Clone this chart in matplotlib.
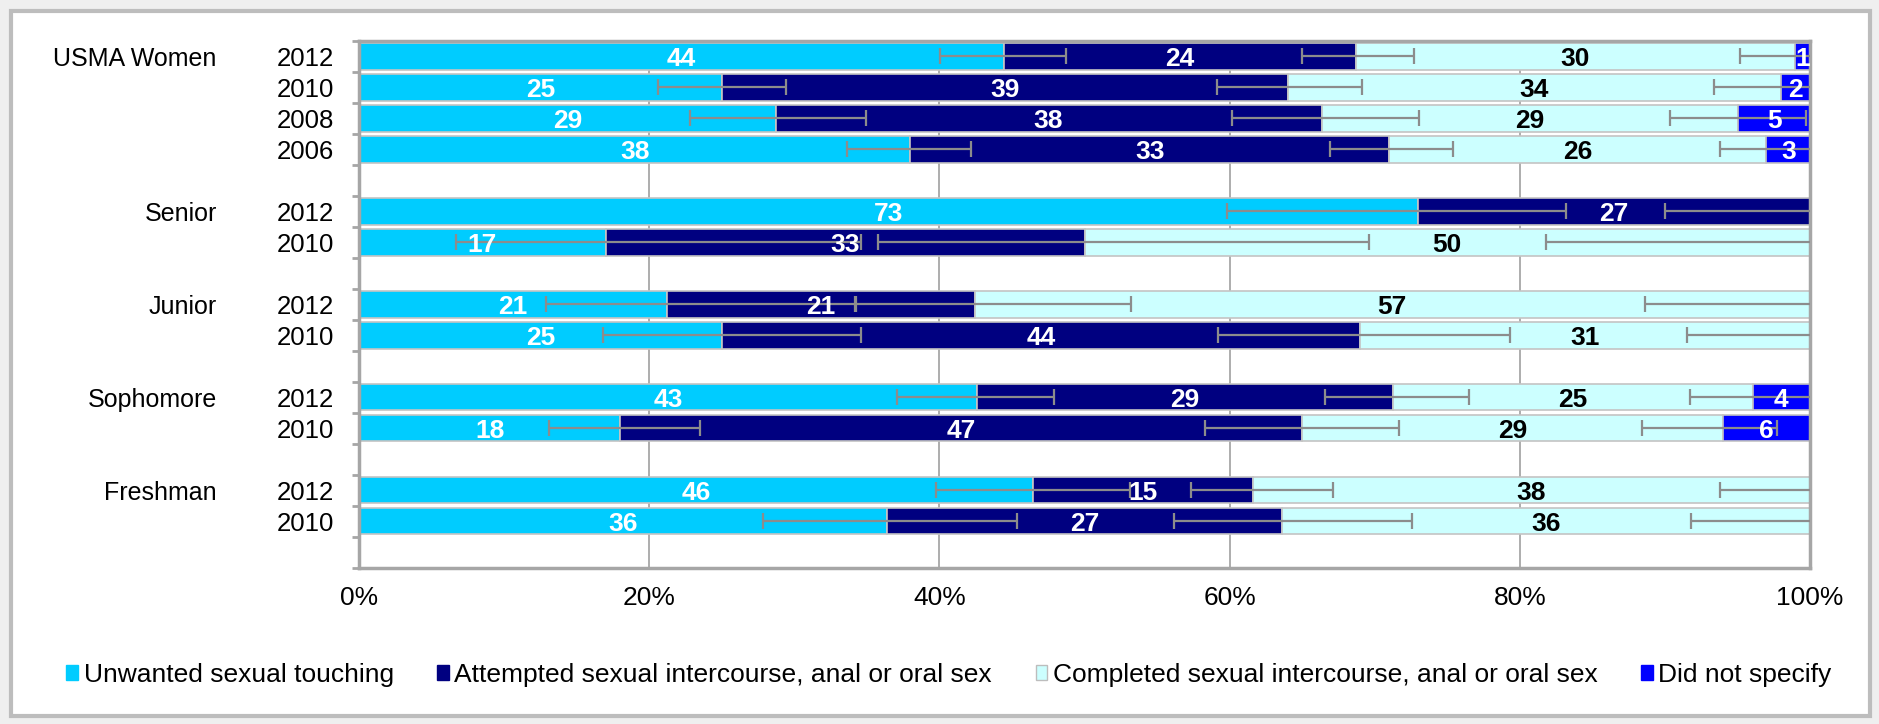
import matplotlib
matplotlib.use("Agg")
import matplotlib.pyplot as plt
from matplotlib.patches import Rectangle, Patch
from matplotlib.transforms import blended_transform_factory
import numpy as np

plt.rcParams['font.family'] = ['Liberation Sans', 'DejaVu Sans']

# groups and survey years, top to bottom
groups = ["USMA Women", "Senior", "Junior", "Sophomore", "Freshman"]
years = [["2012", "2010", "2008", "2006"],
         ["2012", "2010"],
         ["2012", "2010"],
         ["2012", "2010"],
         ["2012", "2010"]]

series = ["Unwanted sexual touching",
          "Attempted sexual intercourse, anal or oral sex",
          "Completed sexual intercourse, anal or oral sex",
          "Did not specify"]

# one value per row (same order as years above)
touching    = [44, 25, 29, 38, 73, 17, 21, 25, 43, 18, 46, 36]
attempted   = [24, 39, 38, 33, 27, 33, 21, 44, 29, 47, 15, 27]
completed   = [30, 34, 29, 26, 0, 50, 57, 31, 25, 29, 38, 36]
unspecified = [1, 2, 5, 3, 0, 0, 0, 0, 4, 6, 0, 0]

# margins of error (minus, plus) at the end of the first three segments
err_touching  = [(4.4, 4.3), (4.4, 4.4), (5.9, 6.2), (4.4, 4.2), (13.2, 10.2), (10.3, 17.6),
                 (8.3, 13.0), (8.2, 9.6), (5.5, 5.3), (4.9, 5.5), (6.7, 6.7), (8.5, 9.0)]
err_attempted = [(3.7, 4.0), (4.9, 5.1), (6.2, 6.7), (4.1, 4.4), (10.0, 10.0), (14.2, 19.6),
                 (8.2, 10.8), (9.8, 10.3), (4.7, 5.2), (6.7, 6.7), (4.3, 5.5), (7.5, 8.9)]
err_completed = [(3.8, 3.8), (4.6, 4.6), (4.7, 4.7), (3.2, 3.2), None, (18.2, 18.2),
                 (11.4, 11.4), (8.5, 8.5), (4.3, 4.3), (5.6, 3.7), (6.2, 6.2), (8.2, 8.2)]

colors = ['#00ccff', '#000080', '#ccffff', '#0000ff']
text_colors = ['white', 'white', 'black', 'white']

# y slots, with one empty slot between groups
ypos = []
slot = 0
for g, ys in zip(groups, years):
    for _ in ys:
        ypos.append(slot)
        slot += 1
    slot += 1
ypos = np.array(ypos)
nslots = slot - 1

vals = np.array([touching, attempted, completed, unspecified], dtype=float)
shares = vals / vals.sum(axis=0) * 100
ends = np.cumsum(shares, axis=0)

fig = plt.figure(figsize=(18.79, 7.24), dpi=100, facecolor='#efefef')
fig.patches.append(Rectangle((11 / 1879, 8 / 724), 1859 / 1879, 705 / 724,
                             transform=fig.transFigure, facecolor='white',
                             edgecolor='#bdbdbd', linewidth=3, zorder=-10))

ax = fig.add_axes([359 / 1879, 1 - 567.5 / 724, 1451 / 1879, 526.5 / 724])

left = np.zeros(len(ypos))
for i in range(4):
    ax.barh(ypos, shares[i], left=left, height=0.86, color=colors[i],
            edgecolor='#c4c4c4', linewidth=1.2, zorder=2)
    for y, l, w, v in zip(ypos, left, shares[i], vals[i]):
        if v > 0:
            ax.text(l + w / 2, y, f"{int(v)}", ha='center', va='center_baseline',
                    color=text_colors[i], fontsize=19, fontweight='bold', zorder=5)
    left = left + shares[i]

for i, errs in enumerate([err_touching, err_attempted, err_completed]):
    for r, e in enumerate(errs):
        if e is None:
            continue
        ax.errorbar(ends[i][r], ypos[r], xerr=[[e[0]], [e[1]]], fmt='none',
                    ecolor='#8c8c8c', elinewidth=1.6, capsize=6, capthick=1.6, zorder=4)

ax.set_xlim(0, 100)
ax.set_ylim(nslots + 0.5, -0.5)
ax.set_xticks([0, 20, 40, 60, 80, 100])
ax.set_xticklabels(["0%", "20%", "40%", "60%", "80%", "100%"], fontsize=19)
ax.tick_params(axis='x', length=0, pad=13)
ax.xaxis.grid(True, color='#a0a0a0', linewidth=1.2, zorder=0)
ax.set_axisbelow(True)

ax.set_yticks(ypos)
ax.set_yticklabels([y for ys in years for y in ys], fontsize=18.5)
ax.tick_params(axis='y', length=0, pad=18)
ax.set_yticks(np.arange(-0.5, nslots + 1), minor=True)
ax.tick_params(axis='y', which='minor', length=5, width=2, color='#a6a6a6', direction='out')

for s in ax.spines.values():
    s.set_color('#a6a6a6')
    s.set_linewidth(2.5)

trans = blended_transform_factory(ax.transAxes, ax.transData)
row = 0
for g, ys in zip(groups, years):
    ax.text(-0.098, ypos[row], g, transform=trans, ha='right', va='center_baseline',
            fontsize=18)
    row += len(ys)

handles = [Patch(facecolor=c, edgecolor='#bdbdbd' if c == '#ccffff' else c, linewidth=1)
           for c in colors]
fig.legend(handles, series, loc='center', bbox_to_anchor=(0.505, 0.068), ncol=4,
           frameon=False, fontsize=19, handlelength=0.45, handleheight=0.5,
           handletextpad=0.2, columnspacing=1.65)

fig.savefig("out.png", dpi=100, facecolor=fig.get_facecolor())
